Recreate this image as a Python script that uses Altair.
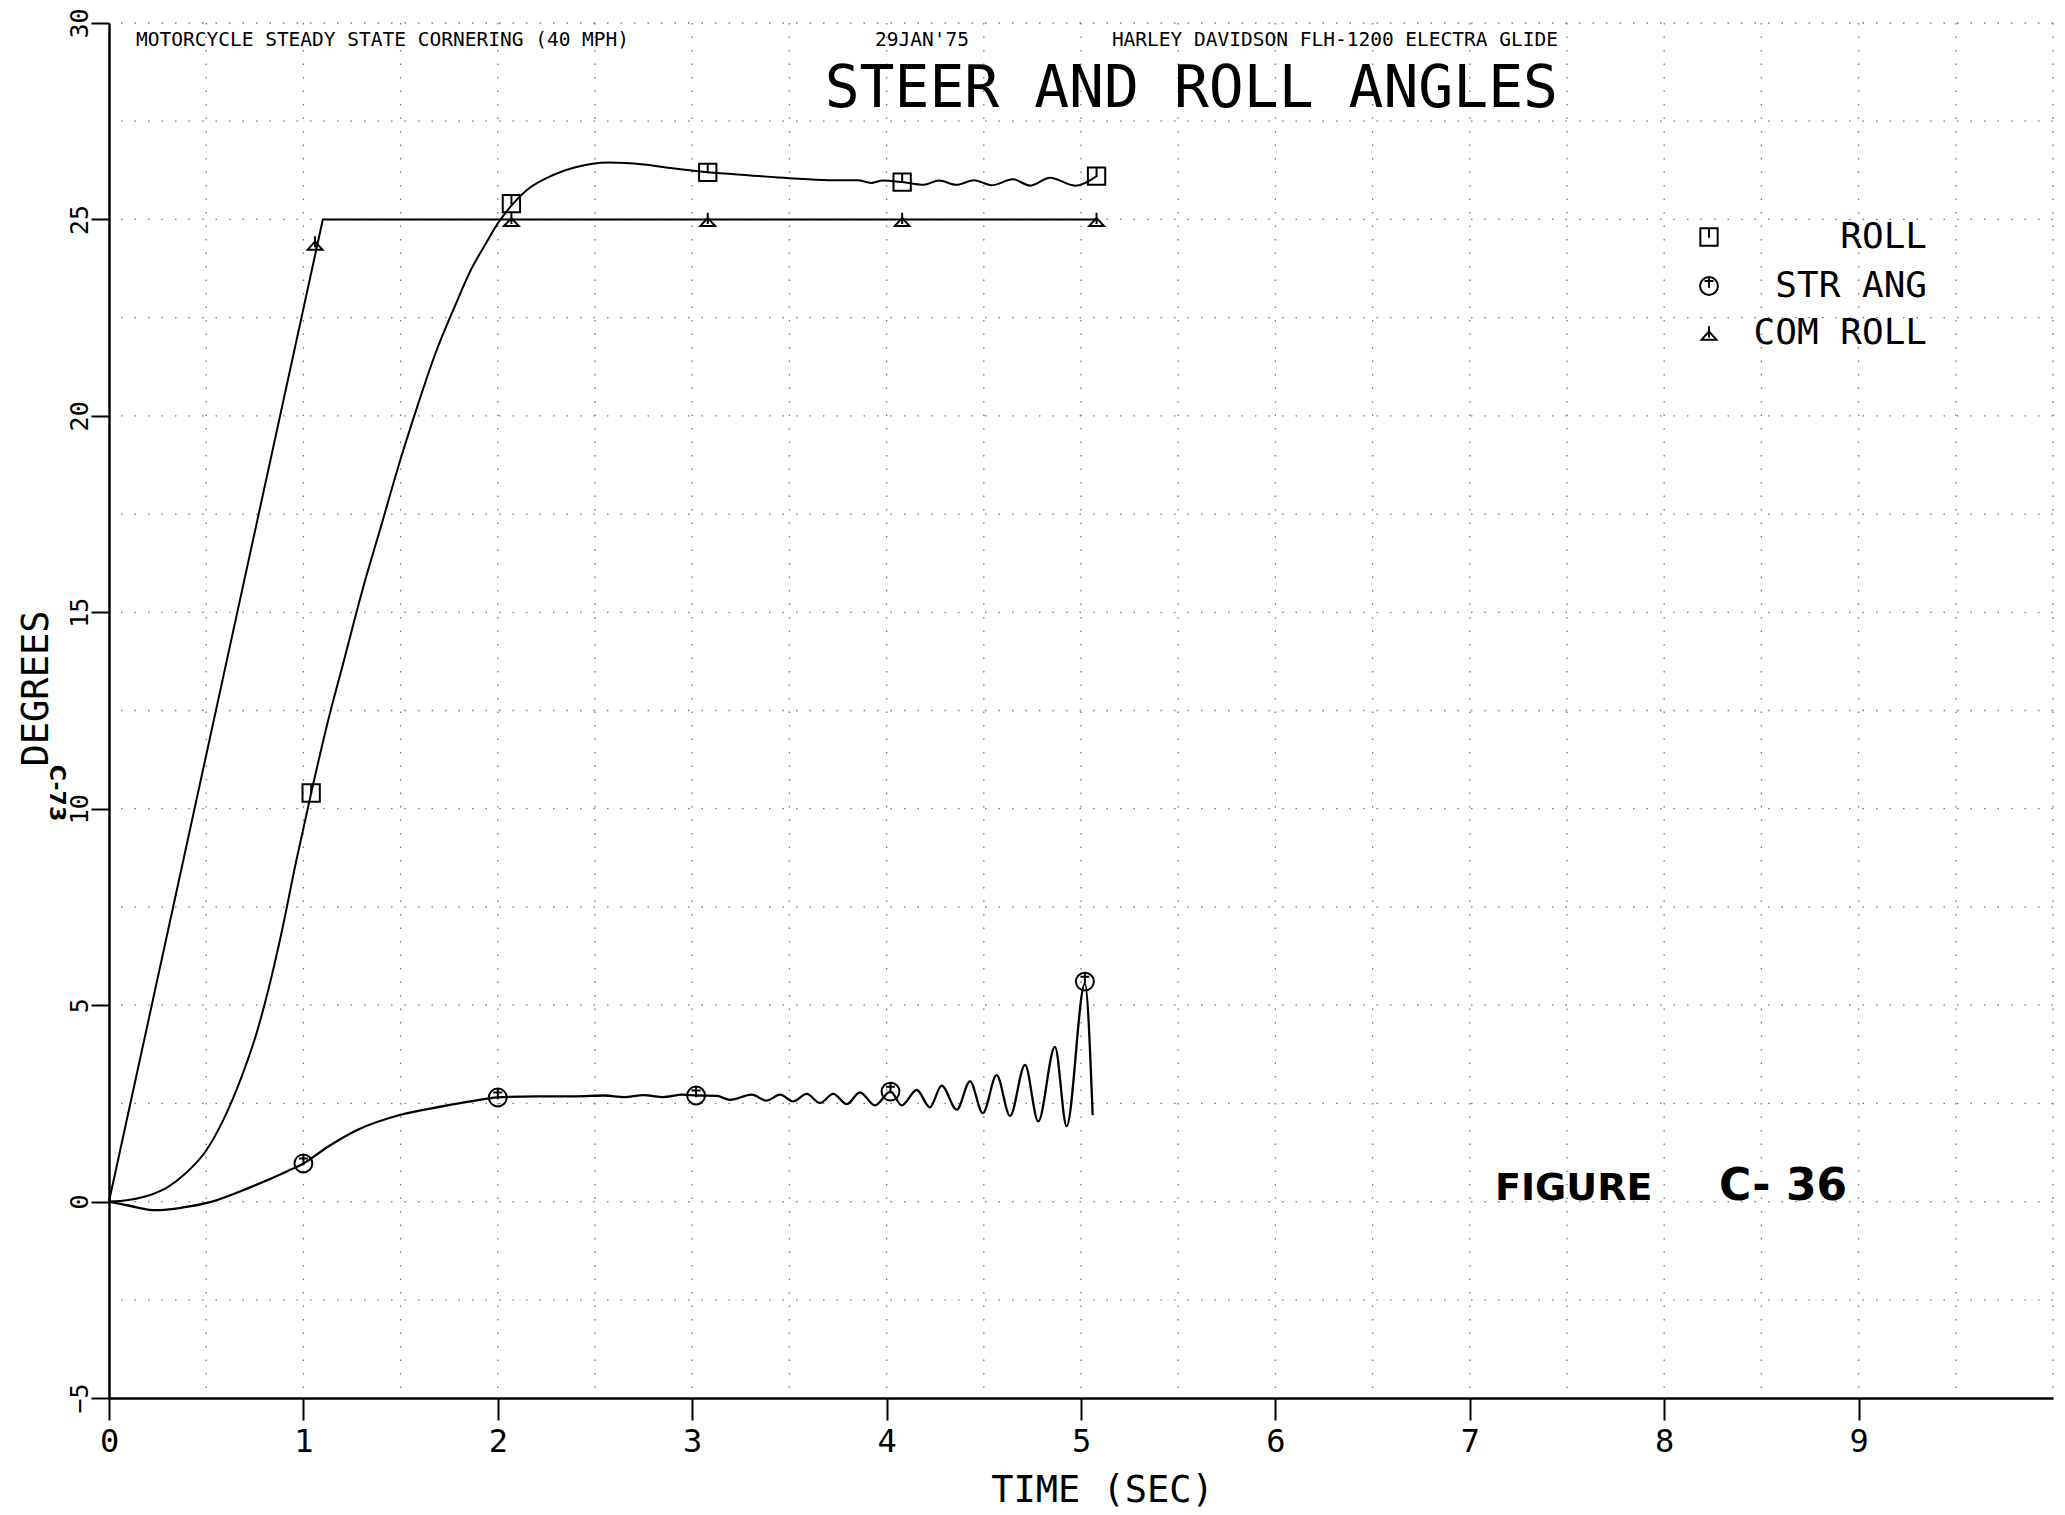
import altair as alt
import pandas as pd

# ---------------- data ----------------
roll_t = [0, 0.1, 0.22, 0.3, 0.39, 0.5, 0.59, 0.68, 0.76, 0.83, 0.89, 0.96, 1.04, 1.12, 1.21,
          1.30, 1.40, 1.50, 1.59, 1.68, 1.78, 1.86, 1.94, 2.0, 2.07, 2.15, 2.25, 2.4, 2.57,
          2.75, 2.9, 3.08, 3.3, 3.5, 3.7, 3.85, 3.92, 3.98, 4.08, 4.19, 4.27, 4.36, 4.45,
          4.54, 4.65, 4.74, 4.84, 4.97, 5.08]
roll_v = [0, 0.04, 0.18, 0.36, 0.7, 1.3, 2.1, 3.15, 4.3, 5.6, 6.9, 8.6, 10.4, 12.1, 13.8,
          15.5, 17.2, 18.9, 20.3, 21.6, 22.8, 23.7, 24.4, 24.9, 25.35, 25.75, 26.05, 26.33, 26.45,
          26.4, 26.3, 26.2, 26.12, 26.05, 26.0, 26.0, 25.93, 25.99, 25.95, 25.88, 25.99, 25.88, 26.0,
          25.87, 26.02, 25.86, 26.06, 25.86, 26.1]
roll_mark_t = [1.04, 2.07, 3.08, 4.08, 5.08]
roll_mark_v = [10.4, 25.4, 26.2, 25.95, 26.1]

str_t = [0, 0.1, 0.24, 0.38, 0.53, 0.72, 0.92, 1.0, 1.13, 1.28, 1.5, 1.71, 1.86, 2.0, 2.2,
         2.4, 2.55, 2.65, 2.75, 2.85, 2.95, 3.02, 3.126, 3.195, 3.306, 3.383, 3.452, 3.52,
         3.589, 3.657, 3.726, 3.795, 3.863, 3.94, 4.02, 4.078, 4.155, 4.223, 4.283, 4.361,
         4.429, 4.495, 4.566, 4.635, 4.712, 4.78, 4.866, 4.926, 5.02, 5.06]
str_v = [0, -0.1, -0.22, -0.15, 0.0, 0.35, 0.78, 0.97, 1.41, 1.83, 2.21, 2.42, 2.55, 2.65, 2.68,
         2.68, 2.7, 2.66, 2.71, 2.66, 2.72, 2.7, 2.69, 2.59, 2.72, 2.57, 2.72, 2.55,
         2.74, 2.51, 2.74, 2.48, 2.78, 2.45, 2.8, 2.45, 2.84, 2.40, 2.95, 2.34,
         3.06, 2.25, 3.22, 2.18, 3.48, 2.04, 3.94, 1.92, 5.55, 2.2]
str_mark_t = [1.0, 2.0, 3.02, 4.02, 5.02]
str_mark_v = [0.97, 2.65, 2.7, 2.8, 5.6]

com_t = [0, 1.1, 5.08]
com_v = [0, 25, 25]
com_mark_t = [1.06, 2.07, 3.08, 4.08, 5.08]
com_mark_v = [24.4, 25, 25, 25, 25]

x_tick_values = [0, 1, 2, 3, 4, 5, 6, 7, 8, 9]
y_tick_values = [-5, 0, 5, 10, 15, 20, 25, 30]
grid_x = [0.5, 1, 1.5, 2, 2.5, 3, 3.5, 4, 4.5, 5, 5.5, 6, 6.5, 7, 7.5, 8, 8.5, 9, 9.5, 10]
grid_y = [-2.5, 0, 2.5, 5, 7.5, 10, 12.5, 15, 17.5, 20, 22.5, 25, 27.5, 30]

legend_names = ["ROLL", "STR ANG", "COM ROLL"]
header_left = "MOTORCYCLE STEADY STATE CORNERING  (40 MPH)"
header_date = "29JAN'75"
header_right = "HARLEY DAVIDSON FLH-1200 ELECTRA GLIDE"
title_text = "STEER AND ROLL ANGLES"
x_title = "TIME (SEC)"
y_title = "DEGREES"
note_fig_a = "FIGURE"
note_fig_b = "C- 36"
note_page = "C-73"

# ---------------- styling ----------------
MONO = "DejaVu Sans Mono"
HAND = "DejaVu Sans"
SQUARE = "M-1,-1L1,-1L1,1L-1,1Z M0,-1L0,0.1"
CIRCLE = "M-1,0A1,1 0 1,0 1,0A1,1 0 1,0 -1,0Z M-0.5,-0.55L0.5,-0.55 M0,-1L0,0.2"
TRIANGLE = "M-1,0.9L1,0.9L0,-0.2Z M0,-0.9L0,0.6"

x_scale = alt.Scale(domain=[0, 10], nice=False, zero=False)
y_scale = alt.Scale(domain=[-5, 30], nice=False, zero=False)

x_axis = alt.Axis(values=x_tick_values, format="d", labelFont=MONO, labelFontSize=32,
                  labelColor="black", labelPadding=6, labelFlush=False, labelOverlap=False,
                  tickSize=22, tickWidth=2, tickColor="black", domainColor="black",
                  domainWidth=2.5, grid=False, title=x_title, titleFont=MONO,
                  titleFontSize=37, titleFontWeight="normal", titleColor="black",
                  titleX=993, titleY=92, titleAlign="center", titleBaseline="middle")
y_axis = alt.Axis(values=y_tick_values, format="d", labelFont=MONO, labelFontSize=25,
                  labelColor="black", labelPadding=12, labelFlush=False, labelOverlap=False,
                  labelAngle=270, labelAlign="center", labelBaseline="middle",
                  tickSize=18, tickWidth=2, tickColor="black", domainColor="black",
                  domainWidth=2.5, grid=False, title=y_title, titleFont=MONO,
                  titleFontSize=37, titleFontWeight="normal", titleColor="black",
                  titleAngle=270, titleX=-73, titleY=665, titleAlign="center",
                  titleBaseline="middle")


def X(field):
    return alt.X(field, type="quantitative", scale=x_scale, axis=x_axis)


def Y(field):
    return alt.Y(field, type="quantitative", scale=y_scale, axis=y_axis)


grid_v = alt.Chart(pd.DataFrame({"gx": grid_x})).mark_rule(
    color="#777777", strokeWidth=1.3, strokeDash=[1.5, 12]).encode(x=X("gx"))
grid_h = alt.Chart(pd.DataFrame({"gy": grid_y})).mark_rule(
    color="#777777", strokeWidth=1.3, strokeDash=[1.5, 12]).encode(y=Y("gy"))

roll_df = pd.DataFrame({"t": roll_t, "v": roll_v})
str_df = pd.DataFrame({"t": str_t, "v": str_v})
com_df = pd.DataFrame({"t": com_t, "v": com_v})

roll_line = alt.Chart(roll_df).mark_line(color="black", strokeWidth=2.0,
                                         interpolate="monotone").encode(x=X("t"), y=Y("v"))
str_line = alt.Chart(str_df).mark_line(color="black", strokeWidth=2.3,
                                       interpolate="monotone").encode(x=X("t"), y=Y("v"))
com_line = alt.Chart(com_df).mark_line(color="black", strokeWidth=2.0).encode(x=X("t"), y=Y("v"))


def markers(ts, vs, shape, size):
    return alt.Chart(pd.DataFrame({"t": ts, "v": vs})).mark_point(
        shape=shape, size=size, filled=False, stroke="black", strokeWidth=2, opacity=1
    ).encode(x=X("t"), y=Y("v"))


roll_pts = markers(roll_mark_t, roll_mark_v, SQUARE, 300)
str_pts = markers(str_mark_t, str_mark_v, CIRCLE, 320)
com_pts = markers(com_mark_t, com_mark_v, TRIANGLE, 220)


def label(text, x, y, size, align="left", font=MONO, weight="normal", angle=0):
    kw = dict(align=align, baseline="middle", font=font, fontSize=size,
              fontWeight=weight, color="black")
    if angle:
        kw["angle"] = angle
    return alt.Chart(pd.DataFrame({"s": [text]})).mark_text(**kw).encode(
        x=alt.value(x), y=alt.value(y), text="s:N")


texts = [
    label(header_left, 27, 17, 19.5),
    label(header_date, 813, 17, 19.5, align="center"),
    label(header_right, 1449, 17, 19.5, align="right"),
    label(title_text, 1449, 67, 58, align="right"),
    label(note_fig_a, 1386, 1166, 38, font=HAND, weight="bold"),
    label(note_fig_b, 1610, 1164, 44, font=HAND, weight="bold"),
    label(note_page, -52, 770, 22, align="center", font=HAND, weight="bold", angle=90),
]

legend_layers = []
legend_shapes = [SQUARE, CIRCLE, TRIANGLE]
legend_sizes = [300, 320, 220]
legend_y = [214, 263, 310]
for name, shp, sz, ly in zip(legend_names, legend_shapes, legend_sizes, legend_y):
    legend_layers.append(
        alt.Chart(pd.DataFrame({"s": [name]})).mark_point(
            shape=shp, size=sz, filled=False, stroke="black", strokeWidth=2, opacity=1
        ).encode(x=alt.value(1600), y=alt.value(ly))
    )
    legend_layers.append(label(name, 1818, ly, 36, align="right"))

chart = alt.layer(
    grid_v, grid_h, com_line, roll_line, str_line, roll_pts, str_pts, com_pts,
    *texts, *legend_layers
).properties(
    width=1944, height=1375,
    padding={"left": 101, "top": 15, "right": 4, "bottom": 116},
    autosize=alt.AutoSizeParams(type="none"),
    background="white",
).configure_view(strokeWidth=0)

chart.save("out.html", embed_options={"renderer": "svg", "actions": False})
